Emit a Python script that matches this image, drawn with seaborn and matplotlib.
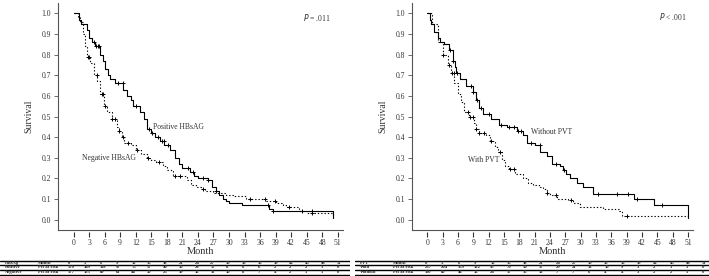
import numpy as np
import pandas as pd
import matplotlib
matplotlib.use('Agg')
import matplotlib.pyplot as plt
import seaborn as sns

# --- Kaplan-Meier curves (time in months, survival) ---
pos_t = [0, 1, 1.5, 2.5, 2.9, 3.5, 4.2, 5.2, 5.7, 6.1, 6.6, 7.1, 8, 9.6, 10.3, 11, 11.5, 12.8, 13.5,
         14.1, 15, 15.7, 16.7, 17.5, 18.6, 19.5, 20.3, 21, 22.4, 23.3, 24, 26, 26.7, 27.5, 28, 28.8,
         29.5, 30, 32.5, 37.8, 38.4, 50]
pos_s = [1.0, 0.97, 0.95, 0.92, 0.88, 0.86, 0.84, 0.80, 0.77, 0.73, 0.70, 0.68, 0.66, 0.63, 0.60, 0.58,
         0.55, 0.52, 0.49, 0.44, 0.42, 0.40, 0.38, 0.36, 0.34, 0.30, 0.27, 0.25, 0.23, 0.21, 0.20, 0.19,
         0.16, 0.14, 0.12, 0.10, 0.09, 0.08, 0.07, 0.05, 0.04, 0.01]
pos_cens = [4.0, 4.3, 4.7, 5.0, 8.5, 9.5, 12.0, 14.5, 15.2, 16.3, 17.0, 17.4, 18.2, 22.0, 23.0, 25.0,
            26.0, 27.5, 37.5, 38.5, 44, 46]

neg_t = [0, 0.8, 1.3, 1.8, 2.2, 2.6, 3.2, 4.0, 4.6, 5.2, 5.8, 6.5, 7.4, 8.4, 8.7, 9.3, 9.7, 11, 12, 13,
         14.1, 15, 16, 17.3, 18, 19.2, 21.8, 22.7, 23.7, 24.5, 25.3, 26.9, 29.5, 31, 33.3, 37.1, 39,
         40.5, 41, 43.5, 45, 50]
neg_s = [1.0, 0.98, 0.96, 0.90, 0.84, 0.79, 0.76, 0.70, 0.67, 0.61, 0.55, 0.52, 0.49, 0.45, 0.43, 0.40,
         0.37, 0.36, 0.34, 0.32, 0.30, 0.29, 0.28, 0.26, 0.24, 0.21, 0.19, 0.17, 0.16, 0.15, 0.14, 0.13,
         0.12, 0.115, 0.10, 0.09, 0.08, 0.07, 0.06, 0.04, 0.03, 0.01]
neg_cens = [2.7, 2.9, 4.5, 5.5, 5.7, 6.0, 7.5, 8.0, 8.8, 9.5, 10.5, 12.2, 14.3, 16.5, 19.5, 20.5, 25.0,
            34.0, 37.0, 38.8, 41.5, 46]

wo_t = [0, 0.5, 0.8, 1.4, 2.0, 2.4, 3.3, 4.3, 5.0, 5.4, 5.7, 6.3, 7.6, 8.9, 9.5, 10.1, 10.8, 12.4, 14,
        15.6, 17.6, 18.8, 19.6, 21.1, 22.1, 23.4, 24.4, 26, 26.6, 27.2, 27.9, 29.2, 30.5, 32.4, 40.5,
        44.4, 51]
wo_s = [1.0, 0.97, 0.95, 0.91, 0.88, 0.86, 0.85, 0.82, 0.77, 0.74, 0.71, 0.68, 0.65, 0.62, 0.58, 0.54,
        0.51, 0.49, 0.46, 0.45, 0.43, 0.41, 0.37, 0.36, 0.33, 0.31, 0.27, 0.26, 0.24, 0.22, 0.20, 0.18,
        0.16, 0.125, 0.10, 0.07, 0.01]
wo_cens = [4.5, 5.0, 5.8, 8.5, 9.0, 9.8, 10.5, 12.0, 14.5, 16, 17, 17.8, 18.3, 20.2, 22, 25.2, 26.8,
           33.5, 37.2, 39.2, 41, 46]

w_t = [0, 1.0, 2.1, 3.1, 4.0, 4.6, 5.3, 6.0, 6.6, 7.2, 8.2, 9.1, 9.6, 10.1, 11.4, 12.3, 13.3, 13.8,
       14.7, 15.3, 15.9, 17.2, 18.8, 19.8, 20.7, 21.8, 22.7, 23.4, 24.0, 25.4, 27.5, 28.5, 29.8, 34.3,
       37.5, 38.2, 51]
w_s = [1.0, 0.95, 0.86, 0.80, 0.75, 0.71, 0.66, 0.61, 0.57, 0.52, 0.50, 0.47, 0.44, 0.42, 0.41, 0.38,
       0.35, 0.33, 0.29, 0.26, 0.245, 0.22, 0.20, 0.18, 0.17, 0.16, 0.15, 0.13, 0.12, 0.10, 0.095, 0.08,
       0.06, 0.05, 0.04, 0.02, 0.01]
w_cens = [3.1, 4.3, 4.9, 5.2, 7.9, 8.3, 8.9, 9.6, 10.2, 11, 12.5, 14.3, 16.2, 17.0, 23.5, 25.2, 28.1, 39.0]

# --- numbers at risk tables ---
months = [0, 3, 6, 9, 12, 15, 18, 21, 24, 27, 30, 33, 36, 39, 42, 45, 48, 51]
risk_pos = [170, 149, 118, 97, 75, 57, 40, 30, 28, 17, 8, 6, 6, 2, 2, 2, 1, 0]
risk_neg = [177, 135, 89, 61, 44, 30, 25, 19, 16, 11, 10, 8, 7, 4, 2, 1, 1, 0]
risk_with = [237, 204, 159, 122, 95, 70, 50, 37, 29, 21, 12, 10, 9, 3, 2, 1, 1, 0]
risk_without = [110, 80, 46, 36, 24, 17, 15, 12, 7, 7, 6, 4, 4, 3, 2, 2, 1, 0]

sns.set_theme(style='white')
plt.rcParams['font.family'] = ['Liberation Serif', 'DejaVu Serif']
TXT = '#333333'

fig = plt.figure(figsize=(7.09, 2.76), dpi=100)
W, H = 709, 276


def add_ax(x0, y_top, x1, y_bot):
    return fig.add_axes([x0 / W, 1 - y_bot / H, (x1 - x0) / W, (y_bot - y_top) / H])


def km(ax, t, s, cens, dashed):
    df = pd.DataFrame({'Month': t, 'Survival': s})
    sns.lineplot(data=df, x='Month', y='Survival', drawstyle='steps-post', estimator=None,
                 color='black', linewidth=0.8, linestyle=(0, (1.2, 1.8)) if dashed else '-', ax=ax)
    t = np.asarray(t)
    idx = np.searchsorted(t, cens, side='right') - 1
    ax.scatter(cens, np.asarray(s)[idx], marker='+', s=12, linewidths=0.7, color='black', zorder=3)


def style_panel(ax):
    ax.set_xlim(-3, 52)
    ax.set_ylim(-0.05, 1.05)
    for sp in ['top', 'right']:
        ax.spines[sp].set_visible(False)
    for sp in ['left', 'bottom']:
        ax.spines[sp].set_color('#555555')
        ax.spines[sp].set_linewidth(0.8)
    ax.set_yticks(np.arange(0, 1.01, 0.1))
    ax.set_yticklabels([f'{v:.1f}' for v in np.arange(0, 1.01, 0.1)])
    ax.tick_params(axis='y', left=True, length=3, width=0.6, color='#555555', labelsize=5.5,
                   labelcolor=TXT, pad=2)
    ax.tick_params(axis='x', bottom=False, labelbottom=False)
    ax.set_xlabel('')
    ax.set_ylabel('Survival', fontsize=7, color=TXT, labelpad=6)
    sec = ax.secondary_xaxis(-0.01)
    sec.set_xticks(months)
    sec.spines['bottom'].set_visible(False)
    sec.tick_params(axis='x', length=3.5, width=0.8, color='#333333', labelsize=5.5, labelcolor=TXT, pad=1)
    sec.set_xlabel('Month', fontsize=7.5, color=TXT, labelpad=0)


def risk_table(x0, x1, group, rows, first_val_x, step):
    tax = add_ax(x0, 259, x1, 276)
    tax.set_xlim(0, x1 - x0)
    tax.set_ylim(17, 0)
    tax.axis('off')
    for yl in [2, 6, 11, 15.5]:
        tax.axhline(yl, color='black', linewidth=1.0)
    lines = [(group, 'Month', months)] + rows
    for r, (name, mid, vals) in enumerate(lines):
        y = [4, 8.5, 13.2][r]
        tax.text(5, y, name, fontsize=3.3, fontweight='bold', va='center', ha='left')
        tax.text(38, y, mid, fontsize=3.3, fontweight='bold', va='center', ha='left')
        for i, v in enumerate(vals):
            tax.text(first_val_x + i * step, y, str(v), fontsize=3.3, fontweight='bold',
                     va='center', ha='left')


# left panel
ax1 = add_ax(58, 3, 343, 230)
km(ax1, pos_t, pos_s, pos_cens, False)
km(ax1, neg_t, neg_s, neg_cens, True)
style_panel(ax1)
ax1.text(15.3, 0.45, 'Positive HBsAG', fontsize=5.5, color=TXT, va='center')
ax1.text(1.7, 0.30, 'Negative HBsAG', fontsize=5.5, color=TXT, va='center')
ax1.text(44.3, 0.98, r'$\it{P}$ = .011', fontsize=5.5, color=TXT, va='center')

# right panel
ax2 = add_ax(412, 3, 693, 230)
km(ax2, wo_t, wo_s, wo_cens, False)
km(ax2, w_t, w_s, w_cens, True)
style_panel(ax2)
ax2.text(20.2, 0.425, 'Without PVT', fontsize=5.5, color=TXT, va='center')
ax2.text(7.9, 0.29, 'With PVT', fontsize=5.5, color=TXT, va='center')
ax2.text(45.3, 0.985, r'$\it{P}$ < .001', fontsize=5.5, color=TXT, va='center')

risk_table(0, 350, 'HBsAg', [('Positive', 'Pts at risk', risk_pos), ('Negative', 'Pts at risk', risk_neg)],
           68, 15.8)
risk_table(355, 709, 'PVT', [('With', 'Pts at risk', risk_with), ('Without', 'Pts at risk', risk_without)],
           70, 16.3)

fig.savefig('out.png', dpi=100)
